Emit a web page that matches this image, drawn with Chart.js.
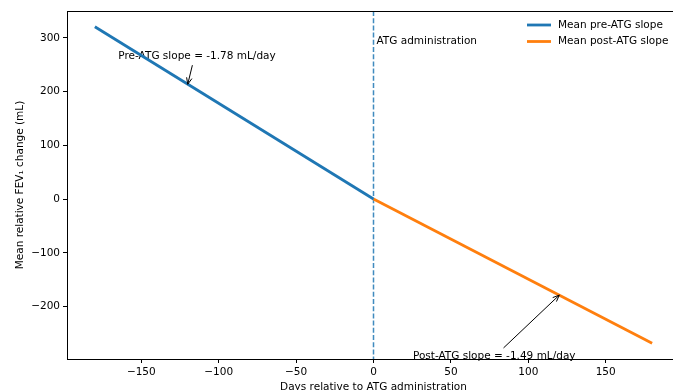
<!DOCTYPE html>
<html>
<head>
<meta charset="utf-8">
<script src="https://cdn.jsdelivr.net/npm/chart.js@4"></script>
<style>
  html, body { margin: 0; padding: 0; background: #fff; overflow: hidden; }
  #wrap { width: 700px; height: 400px; }
</style>
</head>
<body>
<div id="wrap"><canvas id="fevChart" width="700" height="400"></canvas></div>
<script>
// slope lines (days, mL)
const preDays = [-180, 0];
const preValues = [320.4, 0];
const postDays = [0, 180];
const postValues = [0, -268.2];

const xTicks = [-150, -100, -50, 0, 50, 100, 150];
const yTicks = [-200, -100, 0, 100, 200, 300];

const seriesLabels = ['Mean pre-ATG slope', 'Mean post-ATG slope'];

// annotations: text anchor and arrow tip in data units
const notes = [
  { text: 'Pre-ATG slope = -1.78 mL/day', x: -114, y: 265, from: [-117, 249], to: [-120, 213.6] },
  { text: 'Post-ATG slope = -1.49 mL/day', x: 78, y: -292, from: [84, -277], to: [120, -178.8] }
];

const FONT = '"DejaVu Sans", sans-serif';
const BLUE = '#1f77b4';
const ORANGE = '#ff7f0e';

const minus = v => String(v).replace('-', '\u2212');

function drawArrow(ctx, x1, y1, x2, y2) {
  const ang = Math.atan2(y2 - y1, x2 - x1);
  const head = 7;
  ctx.beginPath();
  ctx.moveTo(x1, y1);
  ctx.lineTo(x2, y2);
  ctx.moveTo(x2 - head * Math.cos(ang - 0.4), y2 - head * Math.sin(ang - 0.4));
  ctx.lineTo(x2, y2);
  ctx.lineTo(x2 - head * Math.cos(ang + 0.4), y2 - head * Math.sin(ang + 0.4));
  ctx.stroke();
}

const extras = {
  id: 'extras',
  beforeDatasetsDraw(chart) {
    const { ctx, chartArea: a, scales: { x, y } } = chart;
    // vertical marker at day 0
    ctx.save();
    ctx.strokeStyle = 'rgba(31,119,180,0.85)';
    ctx.lineWidth = 1.5;
    ctx.setLineDash([5, 2.2]);
    const x0 = x.getPixelForValue(0);
    ctx.beginPath();
    ctx.moveTo(x0, a.top);
    ctx.lineTo(x0, a.bottom);
    ctx.stroke();
    ctx.restore();

    ctx.save();
    ctx.font = '10.5px ' + FONT;
    ctx.fillStyle = '#000';
    ctx.textAlign = 'left';
    ctx.textBaseline = 'middle';
    ctx.fillText('ATG administration', x0 + 3, y.getPixelForValue(294));
    ctx.textAlign = 'center';
    notes.forEach(n => ctx.fillText(n.text, x.getPixelForValue(n.x), y.getPixelForValue(n.y)));
    ctx.restore();
  },
  afterDraw(chart) {
    const { ctx, chartArea: a, scales: { x, y } } = chart;
    ctx.save();
    // top spine, only as far as the visible window
    ctx.strokeStyle = '#000';
    ctx.lineWidth = 1;
    ctx.beginPath();
    ctx.moveTo(a.left, a.top + 0.5);
    ctx.lineTo(Math.min(a.right, 673), a.top + 0.5);
    ctx.stroke();

    // arrows
    notes.forEach(n => drawArrow(ctx,
      x.getPixelForValue(n.from[0]), y.getPixelForValue(n.from[1]),
      x.getPixelForValue(n.to[0]), y.getPixelForValue(n.to[1])));

    // legend
    const colors = [BLUE, ORANGE];
    ctx.font = '10.5px ' + FONT;
    ctx.textAlign = 'left';
    ctx.textBaseline = 'middle';
    seriesLabels.forEach((lab, i) => {
      const ly = 25 + i * 16.5;
      ctx.strokeStyle = colors[i];
      ctx.lineWidth = 2.8;
      ctx.beginPath();
      ctx.moveTo(527, ly);
      ctx.lineTo(551, ly);
      ctx.stroke();
      ctx.fillStyle = '#000';
      ctx.fillText(lab, 558, ly);
    });

    // axis titles
    ctx.fillStyle = '#000';
    ctx.textAlign = 'center';
    ctx.textBaseline = 'alphabetic';
    ctx.fillText('Days relative to ATG administration', (a.left + a.right) / 2, 389.5);
    ctx.textBaseline = 'middle';
    ctx.translate(20, (a.top + a.bottom) / 2);
    ctx.rotate(-Math.PI / 2);
    ctx.fillText('Mean relative FEV\u2081 change (mL)', 0, 0);
    ctx.restore();
  }
};

new Chart(document.getElementById('fevChart'), {
  type: 'line',
  data: {
    datasets: [
      {
        label: seriesLabels[0],
        data: preDays.map((d, i) => ({ x: d, y: preValues[i] })),
        borderColor: BLUE,
        borderWidth: 2.8,
        pointRadius: 0
      },
      {
        label: seriesLabels[1],
        data: postDays.map((d, i) => ({ x: d, y: postValues[i] })),
        borderColor: ORANGE,
        borderWidth: 2.8,
        pointRadius: 0
      }
    ]
  },
  options: {
    responsive: false,
    devicePixelRatio: 1,
    animation: false,
    layout: { padding: { left: 0, top: 11, right: 20, bottom: 0 } },
    plugins: { legend: { display: false }, tooltip: { enabled: false } },
    scales: {
      x: {
        type: 'linear',
        min: -198,
        max: 198,
        afterFit: s => { s.height = 41; },
        afterBuildTicks: s => { s.ticks = xTicks.map(v => ({ value: v })); },
        grid: { drawOnChartArea: false, tickLength: 4, color: '#000' },
        border: { color: '#000', width: 1 },
        ticks: {
          color: '#000',
          padding: 3,
          maxRotation: 0,
          font: { family: FONT, size: 10.5 },
          callback: v => minus(v)
        }
      },
      y: {
        type: 'linear',
        min: -297.6,
        max: 349.8,
        afterFit: s => { s.width = 67; },
        afterBuildTicks: s => { s.ticks = yTicks.map(v => ({ value: v })); },
        grid: { drawOnChartArea: false, tickLength: 4, color: '#000' },
        border: { color: '#000', width: 1 },
        ticks: {
          color: '#000',
          padding: 3,
          font: { family: FONT, size: 10.5 },
          callback: v => minus(v)
        }
      }
    }
  },
  plugins: [extras]
});
</script>
</body>
</html>
